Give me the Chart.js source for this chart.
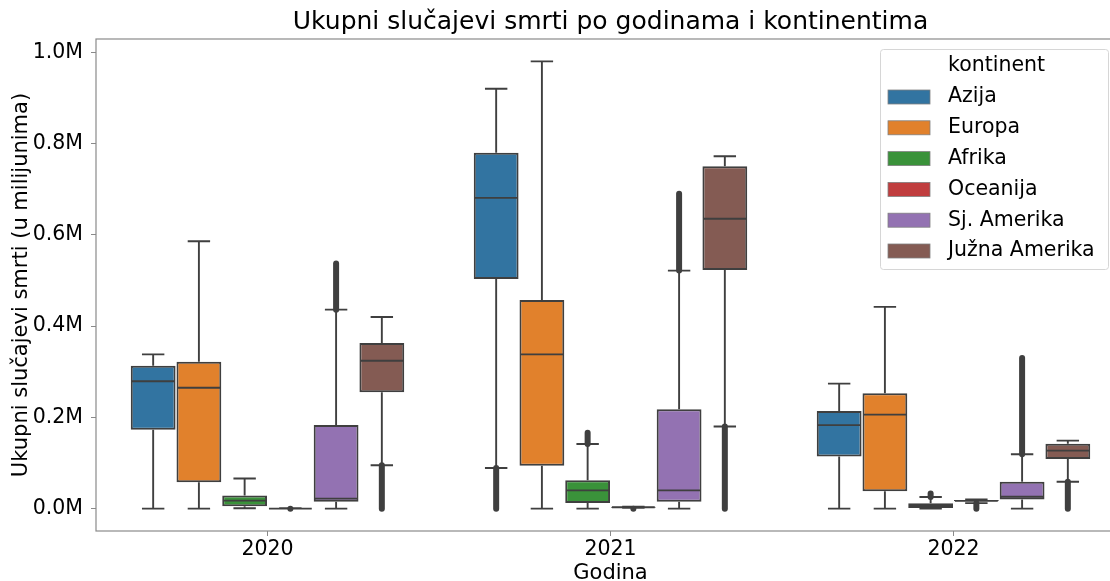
<!DOCTYPE html>
<html>
<head>
<meta charset="utf-8">
<script src="https://cdn.jsdelivr.net/npm/chart.js@4.4.0/dist/chart.umd.min.js"></script>
<style>
  html, body { margin: 0; padding: 0; background: #fff; overflow: hidden; }
  #wrap { width: 1130px; height: 581px; }
</style>
</head>
<body>
<div id="wrap"><canvas id="chart" width="1130" height="581"></canvas></div>
<script>
// categories and series (values in millions)
const years = ['2020', '2021', '2022'];
const continents = ['Azija', 'Europa', 'Afrika', 'Oceanija', 'Sj. Amerika', 'Južna Amerika'];
const colors = ['#3274a1', '#e1812c', '#3a923a', '#c03d3e', '#9372b2', '#845b53'];

// rows = continents, columns = years
const whiskerLow = [
    [0.000, 0.089, 0.000],
    [0.000, 0.000, 0.000],
    [0.001, 0.000, 0.000],
    [0.000, 0.002, 0.012],
    [0.000, 0.000, 0.000],
    [0.095, 0.180, 0.059]
];
const q1 = [
    [0.173, 0.503, 0.114],
    [0.058, 0.094, 0.038],
    [0.005, 0.0125, 0.0015],
    [0.000, 0.002, 0.016],
    [0.015, 0.015, 0.020],
    [0.255, 0.523, 0.109]
];
const median = [
    [0.279, 0.681, 0.183],
    [0.265, 0.338, 0.206],
    [0.0175, 0.040, 0.006],
    [0.000, 0.003, 0.017],
    [0.022, 0.040, 0.026],
    [0.324, 0.635, 0.127]
];
const q3 = [
    [0.313, 0.780, 0.214],
    [0.322, 0.457, 0.253],
    [0.029, 0.062, 0.0117],
    [0.001, 0.004, 0.019],
    [0.183, 0.218, 0.059],
    [0.363, 0.750, 0.142]
];
const whiskerHigh = [
    [0.338, 0.920, 0.274],
    [0.586, 0.980, 0.442],
    [0.066, 0.1415, 0.0256],
    [0.001, 0.004, 0.020],
    [0.436, 0.5215, 0.119],
    [0.420, 0.772, 0.149]
];
// outlier clusters: [from, to] or null
const fliers = [
    [null, [0.000, 0.089], null],
    [null, null, null],
    [null, [0.1415, 0.166], [0.0256, 0.033]],
    [[0.000, 0.000], [0.000, 0.000], [0.000, 0.0117]],
    [[0.436, 0.537], [0.5215, 0.690], [0.119, 0.330]],
    [[0.000, 0.095], [0.000, 0.180], [0.000, 0.059]]
];
const yTicks = [0, 0.2, 0.4, 0.6, 0.8, 1.0];

const lineColor = '#3f3f3f';
const fontFamily = '"DejaVu Sans", sans-serif';

const datasets = continents.map((name, i) => ({
    label: name,
    data: years.map((y, j) => [q1[i][j], q3[i][j]]),
    backgroundColor: colors[i],
    borderColor: lineColor,
    borderWidth: 2,
    borderSkipped: false,
    categoryPercentage: 0.8,
    barPercentage: 0.98
}));

const boxPlugin = {
    id: 'boxParts',
    afterDatasetsDraw(chart) {
        const ctx = chart.ctx;
        const ys = chart.scales.y;
        ctx.save();
        ctx.strokeStyle = lineColor;
        ctx.lineWidth = 1.9;
        continents.forEach((name, i) => {
            const meta = chart.getDatasetMeta(i);
            meta.data.forEach((bar, j) => {
                const x = bar.x;
                const half = bar.width / 2;
                const capHalf = bar.width / 4;
                const yQ1 = ys.getPixelForValue(q1[i][j]);
                const yQ3 = ys.getPixelForValue(q3[i][j]);
                const yLo = ys.getPixelForValue(whiskerLow[i][j]);
                const yHi = ys.getPixelForValue(whiskerHigh[i][j]);
                const yMed = ys.getPixelForValue(median[i][j]);
                ctx.beginPath();
                ctx.moveTo(x, yQ1); ctx.lineTo(x, yLo);
                ctx.moveTo(x, yQ3); ctx.lineTo(x, yHi);
                ctx.moveTo(x - capHalf, yLo); ctx.lineTo(x + capHalf, yLo);
                ctx.moveTo(x - capHalf, yHi); ctx.lineTo(x + capHalf, yHi);
                ctx.moveTo(x - half + 1, yMed); ctx.lineTo(x + half - 1, yMed);
                ctx.stroke();
                const f = fliers[i][j];
                if (f) {
                    ctx.save();
                    ctx.lineWidth = 6;
                    ctx.lineCap = 'round';
                    ctx.beginPath();
                    ctx.moveTo(x, ys.getPixelForValue(f[0]));
                    ctx.lineTo(x, ys.getPixelForValue(f[1]));
                    ctx.stroke();
                    ctx.restore();
                }
            });
        });
        ctx.restore();
    },
    afterDraw(chart) {
        const ctx = chart.ctx;
        const a = chart.chartArea;
        ctx.save();
        // frame
        ctx.strokeStyle = '#8a8a8a';
        ctx.lineWidth = 1.2;
        ctx.strokeRect(a.left, a.top, a.right - a.left, a.bottom - a.top);
        // legend
        const lx = 880, ly = 49, lw = 228, lh = 220;
        ctx.fillStyle = 'rgba(255,255,255,0.8)';
        ctx.strokeStyle = '#d6d6d6';
        ctx.lineWidth = 1;
        ctx.beginPath();
        ctx.roundRect(lx + 0.5, ly + 0.5, lw, lh, 3);
        ctx.fill();
        ctx.stroke();
        ctx.font = '20.5px ' + fontFamily;
        ctx.textBaseline = 'middle';
        ctx.fillStyle = '#000';
        ctx.textAlign = 'left';
        ctx.fillText('kontinent', 948, 66);
        continents.forEach((name, i) => {
            const cy = 97 + i * 30.8;
            ctx.fillStyle = colors[i];
            ctx.fillRect(888, cy - 7, 42, 14);
            ctx.strokeStyle = '#808080';
            ctx.lineWidth = 0.8;
            ctx.strokeRect(888, cy - 7, 42, 14);
            ctx.fillStyle = '#000';
            ctx.fillText(name, 948, cy);
        });
        ctx.restore();
    }
};

new Chart(document.getElementById('chart'), {
    type: 'bar',
    data: { labels: years, datasets: datasets },
    plugins: [boxPlugin],
    options: {
        responsive: false,
        animation: false,
        layout: { padding: { left: 0, right: 5, top: 0, bottom: 0 } },
        plugins: {
            legend: { display: false },
            tooltip: { enabled: false },
            title: {
                display: true,
                fullSize: false,
                text: 'Ukupni slučajevi smrti po godinama i kontinentima',
                color: '#000',
                font: { family: fontFamily, size: 25, weight: 'normal' },
                padding: { top: 7, bottom: 2 }
            }
        },
        scales: {
            x: {
                offset: true,
                grid: { display: true, drawOnChartArea: false, offset: false, tickLength: 5, tickColor: '#8a8a8a' },
                border: { display: false },
                ticks: { color: '#000', font: { family: fontFamily, size: 20.5 }, padding: 1 },
                title: { display: true, text: 'Godina', color: '#000', font: { family: fontFamily, size: 21 }, padding: { top: 0, bottom: -5 } },
                afterFit(s) { s.height = 50; }
            },
            y: {
                min: -0.049,
                max: 1.029,
                grid: { display: true, drawOnChartArea: false, tickLength: 5, tickColor: '#8a8a8a' },
                border: { display: false },
                afterBuildTicks(s) { s.ticks = yTicks.map(v => ({ value: v })); },
                ticks: {
                    color: '#000',
                    font: { family: fontFamily, size: 20.5 },
                    padding: 8,
                    callback: v => v.toFixed(1) + 'M'
                },
                title: { display: true, text: 'Ukupni slučajevi smrti (u milijunima)', color: '#000', font: { family: fontFamily, size: 21 }, padding: { top: 9, bottom: 0 } },
                afterFit(s) { s.width = 96; }
            }
        }
    }
});
</script>
</body>
</html>
